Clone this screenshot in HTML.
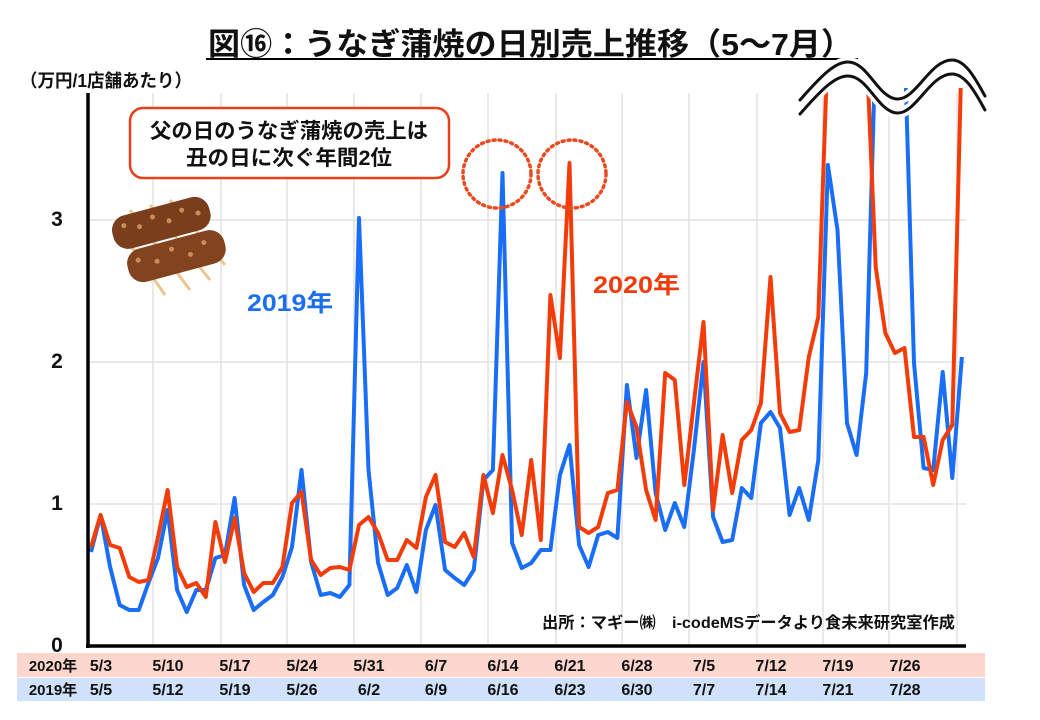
<!DOCTYPE html>
<html><head><meta charset="utf-8"><style>
html,body{margin:0;padding:0;background:#fff;}
body{width:1040px;height:720px;overflow:hidden;position:relative;font-family:"Liberation Sans","Noto Sans CJK JP",sans-serif;}
svg{position:absolute;left:0;top:0;}
text{font-family:"Liberation Sans","Noto Sans CJK JP",sans-serif;font-weight:bold;}
</style></head><body>
<svg id="s" width="1040" height="720" viewBox="0 0 1040 720">
<defs><clipPath id="cp"><rect x="88" y="88" width="900" height="560"/></clipPath></defs>
<g stroke="#e2e2e2" stroke-width="1.5" id="grid"></g>
<rect x="17" y="653" width="968" height="24" fill="#fdd6cd"/>
<rect x="17" y="678" width="968" height="23" fill="#cfe1fb"/>
<g id="lines" clip-path="url(#cp)" fill="none" stroke-width="4" stroke-linejoin="round"></g>
<line x1="88" y1="93" x2="88" y2="648" stroke="#000" stroke-width="3.5"/>
<line x1="86" y1="646" x2="966" y2="646" stroke="#000" stroke-width="3.5"/>
<text x="208" y="55" font-size="31" textLength="645" lengthAdjust="spacingAndGlyphs" fill="#111">図⑯：うなぎ蒲焼の日別売上推移（5～7月）</text>
<line x1="206" y1="59" x2="858" y2="59" stroke="#000" stroke-width="2"/>
<text x="20" y="87" font-size="18" textLength="172" lengthAdjust="spacingAndGlyphs" fill="#111">（万円/1店舗あたり）</text>
<g font-size="21" fill="#111" text-anchor="middle">
<text x="57" y="652">0</text><text x="57" y="510">1</text><text x="57" y="368">2</text><text x="57" y="226">3</text>
</g>
<rect x="130" y="108" width="319" height="70" rx="13" fill="#fff" stroke="#e8401c" stroke-width="2.5"/>
<text x="150" y="138" font-size="21" textLength="278" lengthAdjust="spacingAndGlyphs" fill="#111">父の日のうなぎ蒲焼の売上は</text>
<text x="186" y="165" font-size="21" textLength="206" lengthAdjust="spacingAndGlyphs" fill="#111">丑の日に次ぐ年間2位</text>
<circle cx="497" cy="174" r="34" fill="none" stroke="#ea4a1e" stroke-width="3.5" stroke-dasharray="2 4" stroke-linecap="round"/>
<circle cx="572" cy="174" r="34" fill="none" stroke="#ea4a1e" stroke-width="3.5" stroke-dasharray="2 4" stroke-linecap="round"/>
<text x="247" y="311" font-size="24" textLength="86" lengthAdjust="spacingAndGlyphs" fill="#1a6ff0">2019年</text>
<text x="593" y="293" font-size="24" textLength="87" lengthAdjust="spacingAndGlyphs" fill="#f03c0c">2020年</text>
<text x="542" y="628" font-size="16" textLength="413" lengthAdjust="spacingAndGlyphs" fill="#111">出所：マギー㈱　i-codeMSデータより食未来研究室作成</text>
<!-- eel -->
<g stroke="#e8c890" stroke-width="3">
<line x1="130" y1="210" x2="190" y2="290"/><line x1="150" y1="205" x2="210" y2="280"/><line x1="170" y1="200" x2="225" y2="265"/><line x1="120" y1="230" x2="165" y2="295"/>
</g>
<g transform="rotate(-15 165 225)"><rect x="112" y="205" width="100" height="34" rx="15" fill="#7a3e1c"/><rect x="118" y="241" width="100" height="34" rx="15" fill="#82431f"/>
<g fill="#c88e58"><circle cx="125" cy="215" r="2.5"/><circle cx="140" cy="220" r="2.5"/><circle cx="155" cy="214" r="2.5"/><circle cx="170" cy="222" r="2.5"/><circle cx="185" cy="215" r="2.5"/><circle cx="200" cy="222" r="2.5"/><circle cx="130" cy="252" r="2.5"/><circle cx="148" cy="258" r="2.5"/><circle cx="165" cy="250" r="2.5"/><circle cx="182" cy="260" r="2.5"/><circle cx="198" cy="252" r="2.5"/></g></g>
<!-- wave -->
<g fill="none" stroke-linecap="round">
<path d="M800 100 C822 75,835 62,848 62 C868 62,878 98,897 99 C916 100,930 60,952 60 C966 60,976 80,985 96" stroke="#fff" stroke-width="10"/>
<path d="M800 114 C822 89,835 76,848 76 C868 76,878 112,897 113 C916 114,930 74,952 74 C966 74,976 94,985 110" stroke="#fff" stroke-width="10"/>
<path d="M800 100 C822 75,835 62,848 62 C868 62,878 98,897 99 C916 100,930 60,952 60 C966 60,976 80,985 96" stroke="#111" stroke-width="3"/>
<path d="M800 114 C822 89,835 76,848 76 C868 76,878 112,897 113 C916 114,930 74,952 74 C966 74,976 94,985 110" stroke="#111" stroke-width="3"/>
</g>
<g id="labels" font-size="16" fill="#111" text-anchor="middle"></g>
</svg>
<script>
var NS="http://www.w3.org/2000/svg";
function el(t,a,p,txt){var e=document.createElementNS(NS,t);for(var k in a)e.setAttribute(k,a[k]);if(txt)e.textContent=txt;document.getElementById(p).appendChild(e);return e;}
[153,221,287,354,421,488,556,622,689,757,823,889,957].forEach(function(x){el("line",{x1:x,y1:93,x2:x,y2:646},"grid");});
[220,362,504].forEach(function(y){el("line",{x1:88,y1:y,x2:966,y2:y},"grid");});
var T=40;
var O=[547,515,545,548,577,582,580,537,490,567,587,583,597,522,562,518,573,592,583,583,567,503,492,560,575,568,567,570,525,517,533,560,560,540,548,497,475,542,547,533,557,475,513,455,490,535,460,540,295,358,163,527,533,527,493,490,402,427,490,520,373,380,485,403,322,510,435,493,440,430,403,277,413,432,430,357,317,T,T,T,T,T,267,333,353,348,437,437,485,440,425,T];
var B=[552,515,567,605,610,610,583,558,510,590,612,590,590,558,555,498,585,610,602,595,577,547,470,562,595,593,597,585,218,470,563,595,588,565,592,530,505,570,578,585,570,480,470,173,543,568,563,550,550,475,445,545,567,535,532,538,385,458,390,493,530,503,527,450,362,517,542,540,488,498,423,412,428,515,488,520,460,165,230,423,455,373,T,T,T,T,363,468,470,372,478,357];
function pts(a){return a.map(function(y,i){return (91+i*9.57).toFixed(1)+","+y;}).join(" ");}
el("polyline",{points:pts(B),stroke:"#1a6ef5"},"lines");
el("polyline",{points:pts(O),stroke:"#f23d0a"},"lines");
el("text",{x:53,y:671,"font-size":15},"labels","2020年");el("text",{x:53,y:695,"font-size":15},"labels","2019年");
var a=["5/3","5/10","5/17","5/24","5/31","6/7","6/14","6/21","6/28","7/5","7/12","7/19","7/26"];
var b=["5/5","5/12","5/19","5/26","6/2","6/9","6/16","6/23","6/30","7/7","7/14","7/21","7/28"];
for(var i=0;i<13;i++){var x=101+i*67;el("text",{x:x,y:671},"labels",a[i]);el("text",{x:x,y:695},"labels",b[i]);}
</script>
</body></html>
